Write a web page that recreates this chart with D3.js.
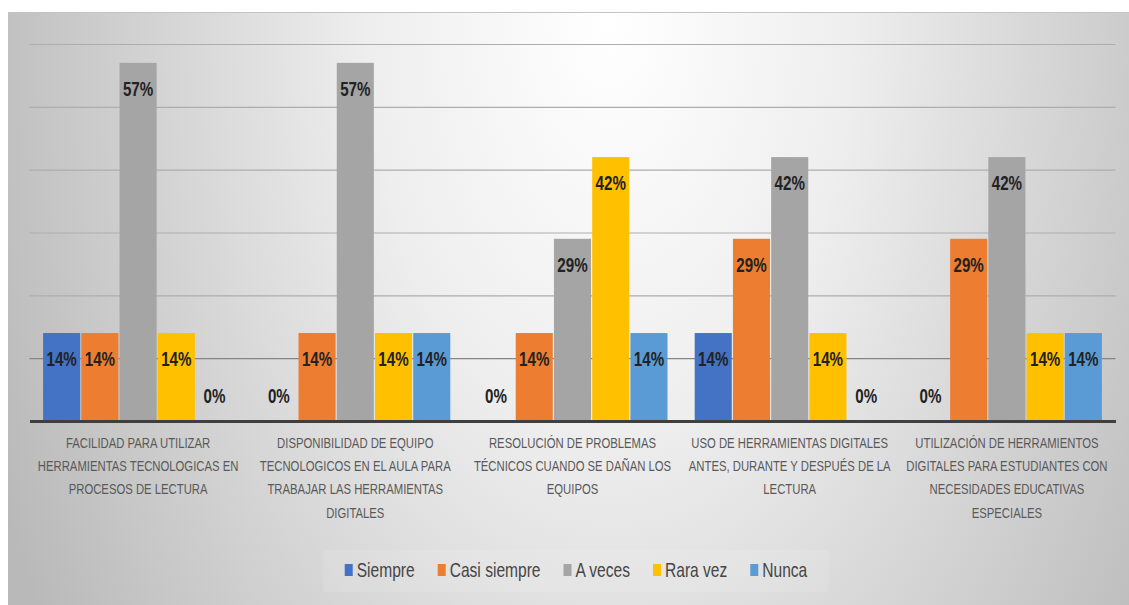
<!DOCTYPE html>
<html>
<head>
<meta charset="utf-8">
<script src="https://cdn.jsdelivr.net/npm/d3@7"></script>
<style>
  html, body { margin: 0; padding: 0; background: #ffffff; }
  svg { display: block; }
</style>
</head>
<body>
<svg id="chart" width="1129" height="605"></svg>
<script>
// ---- data ----
const categories = [
  ["FACILIDAD PARA UTILIZAR", "HERRAMIENTAS TECNOLOGICAS EN", "PROCESOS DE LECTURA"],
  ["DISPONIBILIDAD DE EQUIPO", "TECNOLOGICOS EN EL AULA PARA", "TRABAJAR LAS HERRAMIENTAS", "DIGITALES"],
  ["RESOLUCIÓN DE PROBLEMAS", "TÉCNICOS CUANDO SE DAÑAN LOS", "EQUIPOS"],
  ["USO DE HERRAMIENTAS DIGITALES", "ANTES, DURANTE Y DESPUÉS DE LA", "LECTURA"],
  ["UTILIZACIÓN DE HERRAMIENTOS", "DIGITALES PARA ESTUDIANTES CON", "NECESIDADES EDUCATIVAS", "ESPECIALES"]
];
const seriesNames = ["Siempre", "Casi siempre", "A veces", "Rara vez", "Nunca"];
const seriesColors = ["#4472C4", "#ED7D31", "#A5A5A5", "#FFC000", "#5B9BD5"];
const siempre     = [14, 0, 0, 14, 0];
const casiSiempre = [14, 14, 14, 29, 29];
const aVeces      = [57, 57, 29, 42, 42];
const raraVez     = [14, 14, 42, 14, 14];
const nunca       = [0, 14, 14, 0, 14];
const yTicks = [10, 20, 30, 40, 50, 60];

const seriesValues = [siempre, casiSiempre, aVeces, raraVez, nunca];

// ---- layout ----
const svg = d3.select("#chart");
const W = 1129, H = 605;
const plot = { left: 29.5, right: 1115.5, top: 44, bottom: 421 };
const FONT = "'Liberation Sans', Arial, sans-serif";

// background gradient
const defs = svg.append("defs");
const grad = defs.append("radialGradient")
  .attr("id", "bg")
  .attr("gradientUnits", "userSpaceOnUse")
  .attr("cx", 610).attr("cy", 20).attr("r", 670)
  .attr("fx", 610).attr("fy", 20)
  .attr("gradientTransform", "translate(610,20) scale(1,1.7) translate(-610,-20)");
[[0, "#ffffff"], [0.36, "#eeeeee"], [0.66, "#d5d5d5"], [1, "#b9b9b9"]].forEach(([o, c]) =>
  grad.append("stop").attr("offset", o).attr("stop-color", c));

svg.append("rect").attr("x", 0).attr("y", 0).attr("width", W).attr("height", H).attr("fill", "#ffffff");
svg.append("rect").attr("x", 8).attr("y", 12).attr("width", W - 8).attr("height", H - 12).attr("fill", "url(#bg)");
svg.append("line").attr("x1", 8).attr("x2", W).attr("y1", 12.5).attr("y2", 12.5)
  .attr("stroke", "#c4c4c4").attr("stroke-width", 1);

// scales
const x0 = d3.scaleBand().domain(d3.range(categories.length)).range([plot.left, plot.right]).padding(0);
const groupInner = 190;
const x1 = d3.scaleBand().domain(d3.range(seriesNames.length))
  .range([(x0.bandwidth() - groupInner) / 2, (x0.bandwidth() + groupInner) / 2])
  .paddingInner(0.03).paddingOuter(0);
const y = d3.scaleLinear().domain([0, 60]).range([plot.bottom, plot.top]);

// gridlines
const yAxis = d3.axisLeft(y).tickValues(yTicks).tickSize(-(plot.right - plot.left)).tickFormat("");
const gGrid = svg.append("g").attr("transform", `translate(${plot.left},0)`).call(yAxis);
gGrid.select(".domain").remove();
gGrid.selectAll(".tick line")
  .attr("stroke", d => d === 10 ? "#858585" : "#adadad")
  .attr("stroke-width", 1.2);

// bars
const groups = svg.append("g").selectAll("g")
  .data(categories.map((c, i) => i))
  .join("g")
  .attr("transform", i => `translate(${x0(i)},0)`);

groups.selectAll("rect")
  .data(i => seriesValues.map((vals, s) => ({ s, v: vals[i] })))
  .join("rect")
  .attr("x", d => x1(d.s))
  .attr("width", x1.bandwidth())
  .attr("y", d => y(d.v))
  .attr("height", d => y(0) - y(d.v))
  .attr("fill", d => seriesColors[d.s]);

// baseline axis
const xAxis = d3.axisBottom(x0).tickSize(0).tickFormat("");
const gX = svg.append("g").attr("transform", `translate(0,${plot.bottom})`).call(xAxis);
gX.select(".domain").attr("stroke", "#3f3f3f").attr("stroke-width", 3);

// data labels
groups.selectAll("text.val")
  .data(i => seriesValues.map((vals, s) => ({ s, v: vals[i] })))
  .join("text")
  .attr("class", "val")
  .attr("transform", d => {
    const cx = x1(d.s) + x1.bandwidth() / 2;
    const cy = d.v > 0 ? y(d.v) + 33 : y(0) - 18;
    return `translate(${cx},${cy}) scale(0.74,1)`;
  })
  .attr("text-anchor", "middle")
  .attr("font-family", FONT)
  .attr("font-weight", "bold")
  .attr("font-size", 20.5)
  .attr("fill", "#222222")
  .text(d => d.v + "%");

// category labels
const catLines = 23.2;
groups.each(function (i) {
  const g = d3.select(this);
  categories[i].forEach((line, k) => {
    g.append("text")
      .attr("transform", `translate(${x0.bandwidth() / 2},${plot.bottom + 27 + k * catLines}) scale(0.74,1)`)
      .attr("text-anchor", "middle")
      .attr("font-family", FONT)
      .attr("font-size", 15.3)
      .attr("fill", "#595959")
      .text(line);
  });
});

// legend
const legY = 570;
const legendBox = svg.append("rect")
  .attr("y", 550).attr("height", 42)
  .attr("fill", "#ffffff").attr("fill-opacity", 0.1);
const leg = svg.append("g");
let cursor = 0;
const legScale = 0.76;
seriesNames.forEach((name, s) => {
  const it = leg.append("g");
  it.append("rect").attr("x", 0).attr("y", legY - 6).attr("width", 8).attr("height", 12).attr("fill", seriesColors[s]);
  const t = it.append("text")
    .attr("font-family", FONT).attr("font-size", 20.5).attr("fill", "#454545")
    .attr("transform", `translate(12,${legY + 7}) scale(${legScale},1)`)
    .text(name);
  const w = 12 + t.node().getComputedTextLength() * legScale;
  it.attr("transform", `translate(${cursor},0)`);
  cursor += w + 23;
});
const legW = cursor - 23;
const legStart = 576 - legW / 2;
leg.attr("transform", `translate(${legStart},0)`);
legendBox.attr("x", legStart - 22).attr("width", legW + 44);
</script>
</body>
</html>
